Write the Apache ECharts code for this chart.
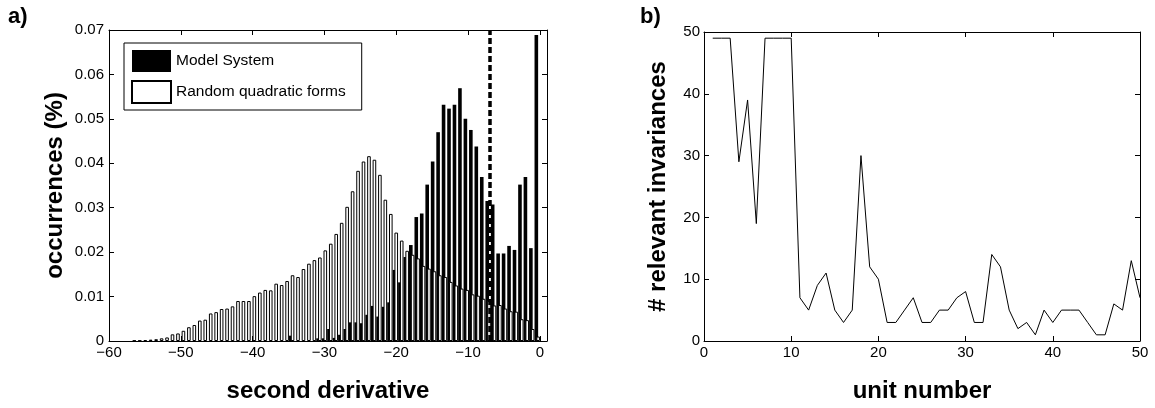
<!DOCTYPE html>
<html>
<head>
<meta charset="utf-8">
<script src="https://cdn.jsdelivr.net/npm/echarts@6/dist/echarts.min.js"></script>
<style>
  html, body { margin: 0; padding: 0; background: #fff; }
  #chart { width: 1155px; height: 408px; }
</style>
</head>
<body>
<div id="chart"></div>
<script>
// a) histogram of second derivatives, 75 bins from left to right
var binStart = -56.6;
var binStep = 0.76;
var modelSystem = [
  0, 0, 0, 0, 0, 0, 0, 0, 0, 0,
  0, 0, 0, 0, 0, 0, 0, 0, 0, 0,
  0, 0, 0, 0, 0, 0, 0, 0, 0, 0.0012,
  0, 0, 0, 0, 0.0006, 0.0006, 0.0027, 0.0007, 0.0014, 0.0027,
  0.0042, 0.0042, 0.0040, 0.0059, 0.0079, 0.0055, 0.0077, 0.0087, 0.0160, 0.0132,
  0.0189, 0.0216, 0.0279, 0.0287, 0.0352, 0.0404, 0.0470, 0.0532, 0.0523, 0.0532,
  0.0569, 0.0500, 0.0475, 0.0438, 0.0369, 0.0315, 0.0307, 0.0197, 0.0197, 0.0214,
  0.0205, 0.0352, 0.0369, 0.0209, 0.0689
];
var randomForms = [
  0.0001, 0.0001, 0.0002, 0.0003, 0.0004, 0.0006, 0.0008, 0.0015, 0.0017, 0.0023,
  0.0031, 0.0036, 0.0046, 0.0048, 0.0062, 0.0065, 0.0072, 0.0073, 0.0078, 0.0090,
  0.0090, 0.0090, 0.0101, 0.0109, 0.0115, 0.0114, 0.0129, 0.0126, 0.0135, 0.0148,
  0.0144, 0.0162, 0.0174, 0.0182, 0.0188, 0.0204, 0.0219, 0.0241, 0.0266, 0.0302,
  0.0337, 0.0383, 0.0404, 0.0416, 0.0408, 0.0374, 0.0318, 0.0286, 0.0244, 0.0226,
  0.0203, 0.0194, 0.0186, 0.0169, 0.0163, 0.0157, 0.0148, 0.0144, 0.0133, 0.0125,
  0.0118, 0.0115, 0.0105, 0.0102, 0.0095, 0.0090, 0.0080, 0.0081, 0.0073, 0.0067,
  0.0066, 0.0049, 0.0047, 0.0027, 0.0010
];
var cutoff = -6.9;

// b) relevant invariances per unit
var units = [];
for (var u = 1; u <= 50; u++) units.push(u);
var invariances = [
  49, 49, 49, 29, 39, 19, 49, 49, 49, 49,
  7, 5, 9, 11, 5, 3, 5, 30, 12, 10,
  3, 3, 5, 7, 3, 3, 5, 5, 7, 8,
  3, 3, 14, 12, 5, 2, 3, 1, 5, 3,
  5, 5, 5, 3, 1, 1, 6, 5, 13, 7
];

var font = "'Liberation Sans', Arial, sans-serif";

var modelData = [];
var randomData = [];
modelSystem.forEach(function (v, i) {
  var x = +(binStart + i * binStep).toFixed(2);
  modelData.push([x, v]);
  randomData.push([x, randomForms[i]]);
});
var lineData = units.map(function (u, i) {
  return [u, invariances[i]];
});

function minus(v) {
  return String(v).replace('-', '\u2212');
}

// one axis with MATLAB style inward ticks; mirror = no labels
function axis(gridIndex, position, min, max, interval, mirror, extra) {
  var a = {
    type: 'value',
    gridIndex: gridIndex,
    position: position,
    min: min,
    max: max,
    interval: interval,
    splitLine: { show: false },
    axisLine: { show: true, onZero: false, lineStyle: { color: '#000', width: 1 } },
    axisTick: { show: true, inside: true, length: 5, lineStyle: { color: '#000' } },
    axisLabel: {
      show: !mirror,
      color: '#000',
      fontSize: 15,
      fontFamily: font,
      showMaxLabel: true
    },
    nameTextStyle: { color: '#000', fontSize: 24, fontWeight: 'bold', fontFamily: font }
  };
  if (extra) {
    for (var k in extra) {
      if (k === 'axisLabel') {
        for (var j in extra.axisLabel) a.axisLabel[j] = extra.axisLabel[j];
      } else {
        a[k] = extra[k];
      }
    }
  }
  return a;
}

var chart = echarts.init(document.getElementById('chart'));

var option = {
  animation: false,
  backgroundColor: '#fff',
  textStyle: { fontFamily: font },
  graphic: [
    { type: 'text', left: 8, top: 6, style: { text: 'a)', font: 'bold 22px ' + font, fill: '#000' } },
    { type: 'text', left: 640, top: 6, style: { text: 'b)', font: 'bold 22px ' + font, fill: '#000' } }
  ],
  grid: [
    { left: 109, right: 608, top: 30, bottom: 66 },
    { left: 704, right: 15, top: 32, bottom: 66 }
  ],
  legend: {
    orient: 'vertical',
    left: 124,
    top: 43,
    padding: [7, 16, 6, 7],
    itemGap: 8,
    itemWidth: 39,
    itemHeight: 22,
    borderColor: '#000',
    borderWidth: 1,
    backgroundColor: '#fff',
    textStyle: { color: '#000', fontSize: 15.5, fontFamily: font },
    data: [
      { name: 'Model System', icon: 'rect' },
      { name: 'Random quadratic forms', icon: 'rect' }
    ]
  },
  xAxis: [
    axis(0, 'bottom', -60, 1, 10, false, {
      name: 'second derivative',
      nameLocation: 'middle',
      nameGap: 38,
      axisLabel: { margin: 4, showMaxLabel: false, formatter: minus }
    }),
    axis(0, 'top', -60, 1, 10, true),
    axis(1, 'bottom', 0, 50, 10, false, {
      name: 'unit number',
      nameLocation: 'middle',
      nameGap: 38,
      axisLabel: { margin: 4 }
    }),
    axis(1, 'top', 0, 50, 10, true)
  ],
  yAxis: [
    axis(0, 'left', 0, 0.07, 0.01, false, {
      name: 'occurrences (%)',
      nameLocation: 'middle',
      nameGap: 42,
      axisLabel: {
        margin: 5,
        formatter: function (v) { return v === 0 ? '0' : v.toFixed(2); }
      }
    }),
    axis(0, 'right', 0, 0.07, 0.01, true),
    axis(1, 'left', 0, 50, 10, false, {
      name: '# relevant invariances',
      nameLocation: 'middle',
      nameGap: 34,
      axisLabel: { margin: 4 }
    }),
    axis(1, 'right', 0, 50, 10, true)
  ],
  series: [
    {
      name: 'Model System',
      type: 'bar',
      xAxisIndex: 0,
      yAxisIndex: 0,
      barWidth: 3.6,
      barGap: '-50%',
      itemStyle: { color: '#000' },
      data: modelData,
      markLine: {
        silent: true,
        symbol: ['none', 'none'],
        label: { show: false },
        lineStyle: { color: '#000', width: 3.5, type: [6, 3] },
        data: [{ xAxis: cutoff }]
      }
    },
    {
      name: 'Random quadratic forms',
      type: 'bar',
      xAxisIndex: 0,
      yAxisIndex: 0,
      barWidth: 3.6,
      barGap: '-50%',
      itemStyle: { color: '#fff', borderColor: '#000', borderWidth: 1 },
      data: randomData
    },
    {
      name: 'invariances',
      type: 'line',
      xAxisIndex: 2,
      yAxisIndex: 2,
      showSymbol: false,
      lineStyle: { color: '#000', width: 1 },
      data: lineData
    }
  ]
};

chart.setOption(option);
</script>
</body>
</html>
